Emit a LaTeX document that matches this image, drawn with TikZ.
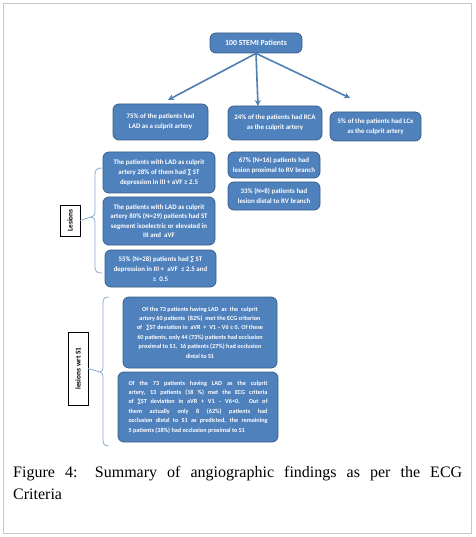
\documentclass[tikz,border=0pt]{standalone}
\usepackage{fontspec}
\setmainfont{Liberation Serif}
\newfontfamily\boxfont{Carlito}
\usetikzlibrary{calc,arrows.meta}
\definecolor{boxfill}{RGB}{79,129,189}
\definecolor{boxline}{RGB}{56,93,138}
\definecolor{arrcol}{RGB}{80,125,180}
\definecolor{bracecol}{RGB}{140,170,210}
\definecolor{framecol}{RGB}{200,200,200}
\tikzset{
  bluebox/.style={draw=boxline, fill=boxfill, line width=0.8pt, rounded corners=6pt,
    text=white, font=\boxfont\bfseries\fontsize{6.9}{10}\selectfont, align=center,
    inner sep=1pt},
  smalltext/.style={font=\boxfont\bfseries\fontsize{6.2}{9.4}\selectfont},
  labelbox/.style={draw=black, fill=white, line width=0.6pt, rotate=90,
    font=\boxfont\bfseries\fontsize{7.3}{8}\selectfont, inner sep=1pt},
  arr/.style={draw=arrcol, line width=1.6pt, -{Stealth[length=6pt,width=6pt]}},
  bracestyle/.style={draw=bracecol, line width=0.8pt},
}
\begin{document}
\begin{tikzpicture}[x=1pt,y=-1pt]
\useasboundingbox (0,0) rectangle (475,537);
\draw[framecol, line width=0.6pt] (3,3) rectangle (471,533);

\node[bluebox, minimum width=92pt, minimum height=20pt, font=\boxfont\bfseries\fontsize{7.8}{9}\selectfont] (top) at (256,43) {100 STEMI Patients};
\node[bluebox, minimum width=95pt, minimum height=36pt] (lad) at (160.5,122) {75\% of the patients had\\LAD as a culprit artery};
\node[bluebox, minimum width=94pt, minimum height=34pt] (rca) at (275,123) {24\% of the patients had RCA\\as the culprit artery};
\node[bluebox, minimum width=91pt, minimum height=29pt] (lcx) at (375.5,126.5) {5\% of the patients had LCx\\as the culprit artery};

\coordinate (ladtip) at (168,100);
\coordinate (rcatip) at (258,106);
\coordinate (lcxtip) at (350,98);
\draw[arr] (top.south) -- (ladtip);
\draw[arr] (top.south) -- (rcatip);
\draw[arr] (top.south) -- (lcxtip);

\node[bluebox, minimum width=112pt, minimum height=41pt] (a) at (159,172.5) {The patients with LAD as culprit\\artery 28\% of them had ∑ ST\\depression in III + aVF ≥ 2.5};
\node[bluebox, minimum width=112pt, minimum height=48pt, font=\boxfont\bfseries\fontsize{6.9}{9.4}\selectfont] (b) at (159,221) {The patients with LAD as culprit\\artery 80\% (N=29) patients had ST\\segment isoelectric or elevated in\\III and\ \ aVF};
\node[bluebox, minimum width=111pt, minimum height=37pt] (c) at (160.5,268.5) {55\% (N=28) patients had ∑ ST\\depression in III +\ \ aVF\ \ ≤ 2.5 and\\≥\ \ 0.5};

\node[bluebox, minimum width=92pt, minimum height=26pt] (r1) at (274,165) {67\% (N=16) patients had\\lesion proximal to RV branch};
\node[bluebox, minimum width=92pt, minimum height=28pt] (r2) at (274,196) {33\% (N=8) patients had\\lesion distal to RV branch};

\node[labelbox, minimum width=31pt, minimum height=20pt] (les) at (70,220.5) {Lesions};
\coordinate (b1tip) at (91,217);
\draw[bracestyle] (102,168) .. controls (96,168) and (95,170) .. (95,175) -- (95,211) .. controls (95,215) and (94,217) .. (b1tip) .. controls (94,217) and (95,219) .. (95,223) -- (95,266) .. controls (95,271) and (96,273) .. (102,273);
\draw[bracestyle] (les.south) -- (b1tip);

\node[bluebox, smalltext, minimum width=154pt, minimum height=71pt] (d) at (200,332.5) {Of the 73 patients having LAD\ \ as\ \ the\ \ culprit\\artery 60 patients\ \ (82\%)\ \ met the ECG criterion\\of\ \ \ ∑ST deviation in\ \ aVR\ \ +\ \ V1 – V6 ≥ 0. Of these\\60 patients, only 44 (73\%) patients had occlusion\\proximal to S1,\ \ 16 patients (27\%) had occlusion\\distal to S1};
\node[bluebox, smalltext, minimum width=160pt, minimum height=70pt, text width=139pt, align=justify] (e) at (198,407) {Of the 73 patients having LAD as the culprit\linebreak artery, 13 patients (18 \%) met the ECG criteria\linebreak of ∑ST deviation in aVR + V1 – V6<0. Out of\linebreak them actually only 8 (62\%) patients had\linebreak occlusion distal to S1 as predicted, the remaining\linebreak 5 patients (38\%) had occlusion proximal to S1};

\node[labelbox, minimum width=73pt, minimum height=20pt] (s1) at (78,368.5) {lesions wrt S1};
\coordinate (b2tip) at (100,372);
\draw[bracestyle] (109,297) .. controls (104,297) and (103,299) .. (103,304) -- (103,366) .. controls (103,370) and (102,372) .. (b2tip) .. controls (102,372) and (103,374) .. (103,378) -- (103,439) .. controls (103,444) and (104,446) .. (109,446);
\draw[bracestyle] (s1.south) -- (b2tip);

\node[anchor=north west, text width=449pt, align=justify, inner sep=0pt,
  font=\fontsize{16}{22}\selectfont] (cap) at (13,466)
  {Figure 4: Summary of angiographic findings as per the ECG\linebreak Criteria};
\end{tikzpicture}
\end{document}
